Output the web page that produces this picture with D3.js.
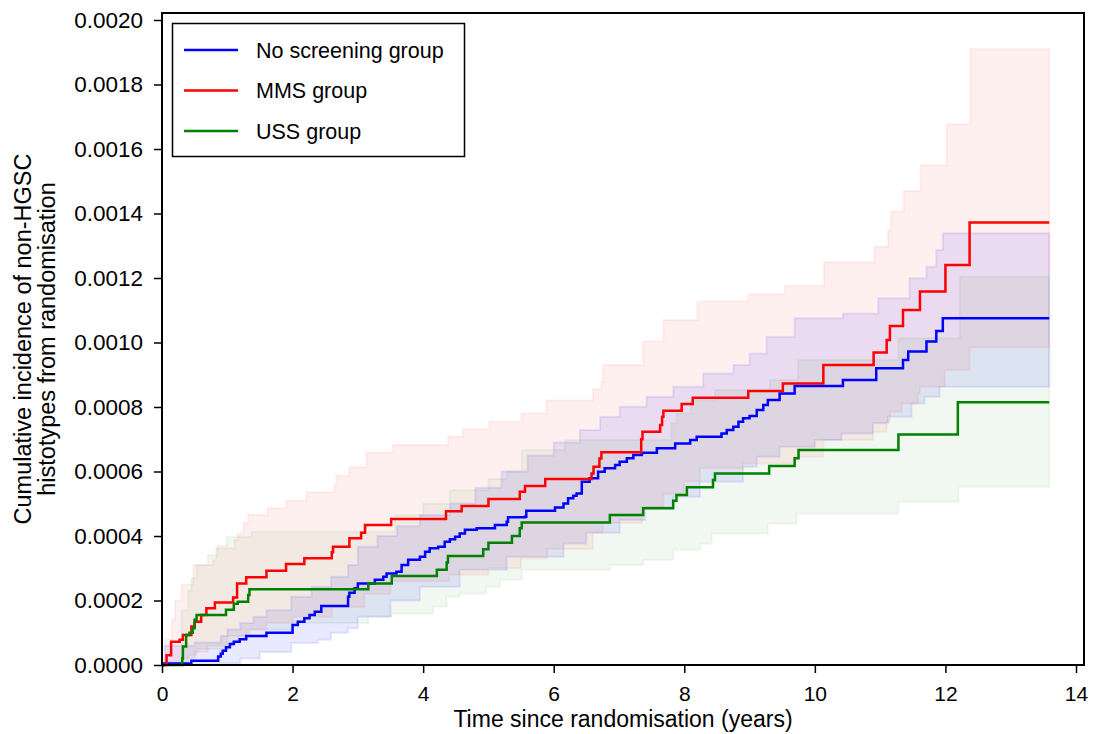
<!DOCTYPE html>
<html>
<head>
<meta charset="utf-8">
<script src="https://cdn.jsdelivr.net/npm/d3@7"></script>
<style>
  body { margin: 0; background: #fff; }
  svg { display: block; font-family: "Liberation Sans", Arial, sans-serif; }
</style>
</head>
<body>
<div id="chart"></div>
<script>
// step points [time (years), cumulative incidence]
const noScreening = [[0,0],[0.03,0.000005],[0.45,0.000013],[0.86,0.000026],[0.9,0.000035],[0.93,0.000044],[0.98,0.000055],[1.04,0.000065],[1.1,0.000072],[1.19,0.00008],[1.29,0.00009],[1.6,0.0001],[2.0,0.000124],[2.08,0.000134],[2.18,0.000145],[2.26,0.000155],[2.34,0.000165],[2.44,0.000183],[2.85,0.000212],[2.87,0.000224],[2.95,0.000238],[3.0,0.000253],[3.26,0.000264],[3.39,0.000274],[3.44,0.000284],[3.59,0.000289],[3.67,0.00031],[3.77,0.000326],[3.95,0.000336],[4.03,0.000351],[4.1,0.000362],[4.23,0.000367],[4.33,0.000382],[4.41,0.00039],[4.49,0.000398],[4.56,0.000408],[4.64,0.000419],[4.82,0.000424],[5.1,0.000434],[5.28,0.000444],[5.3,0.000458],[5.56,0.00046],[5.58,0.000478],[6.02,0.000488],[6.15,0.000501],[6.22,0.000517],[6.3,0.000525],[6.35,0.000532],[6.43,0.000568],[6.55,0.000579],[6.68,0.000599],[6.78,0.00061],[6.94,0.00062],[7.01,0.00063],[7.12,0.000641],[7.22,0.000651],[7.35,0.000658],[7.58,0.000672],[7.86,0.000687],[8.09,0.000698],[8.19,0.000708],[8.57,0.000718],[8.65,0.000729],[8.75,0.000739],[8.83,0.000754],[8.9,0.000765],[9.0,0.000772],[9.11,0.000791],[9.21,0.000806],[9.28,0.000822],[9.46,0.000842],[9.69,0.000865],[10.43,0.000884],[10.94,0.00092],[11.35,0.000946],[11.43,0.000972],[11.71,0.001003],[11.86,0.001036],[11.96,0.001075],[13.59,0.001075]];
const mms = [[0,0],[0.07,0.00003],[0.14,0.000072],[0.27,0.000078],[0.32,0.000093],[0.45,0.000119],[0.5,0.000134],[0.6,0.000155],[0.68,0.000176],[0.81,0.000194],[1.09,0.000209],[1.15,0.000253],[1.29,0.000272],[1.6,0.000292],[1.9,0.000313],[2.18,0.000331],[2.6,0.00035],[2.62,0.000367],[2.87,0.000393],[3.05,0.00041],[3.11,0.000434],[3.51,0.000453],[4.35,0.000477],[4.59,0.000493],[5.0,0.000515],[5.48,0.000537],[5.56,0.000555],[5.87,0.000577],[6.58,0.000594],[6.61,0.000615],[6.7,0.00064],[6.73,0.00066],[7.34,0.0007],[7.36,0.000723],[7.63,0.000744],[7.66,0.00077],[7.68,0.000788],[7.96,0.000809],[8.13,0.000829],[8.98,0.00085],[9.51,0.000873],[10.13,0.00093],[10.9,0.000969],[11.1,0.001008],[11.15,0.001051],[11.35,0.001101],[11.61,0.001158],[12.0,0.00124],[12.37,0.001372],[13.59,0.001372]];
const uss = [[0,0],[0.31,0.00002],[0.32,0.000057],[0.37,0.000093],[0.42,0.0001],[0.47,0.000114],[0.5,0.00014],[0.53,0.000155],[0.98,0.000171],[1.1,0.00019],[1.16,0.000196],[1.32,0.000217],[1.34,0.000235],[3.16,0.000253],[3.52,0.000276],[4.21,0.000295],[4.36,0.000318],[4.38,0.000338],[4.92,0.000359],[5.0,0.000379],[5.36,0.0004],[5.48,0.000424],[5.51,0.000442],[6.86,0.000465],[7.37,0.000486],[7.83,0.000509],[7.88,0.000527],[8.04,0.000551],[8.44,0.000574],[8.47,0.000594],[9.3,0.000617],[9.69,0.000641],[9.75,0.000667],[11.28,0.000715],[12.19,0.000815],[13.59,0.000815]];

// 95% confidence limits
const noScreeningLo = [[0,0],[0.9,0.000005],[1.2,0.00002],[1.5,0.00004],[1.98,0.000068],[2.39,0.000078],[2.59,0.0001],[2.85,0.000114],[3.0,0.00015],[3.5,0.0002],[3.95,0.000243],[4.56,0.000295],[5.28,0.000336],[6.15,0.000377],[6.5,0.00041],[7.01,0.00045],[7.4,0.00049],[7.83,0.000522],[8.24,0.000568],[8.9,0.000615],[9.11,0.000646],[9.46,0.000677],[10.0,0.000698],[10.41,0.000718],[10.89,0.00075],[11.12,0.00077],[11.48,0.000811],[11.68,0.000832],[11.91,0.000863],[13.59,0.000863]];
const noScreeningHi = [[0,0],[0.04,0.00006],[0.5,0.00007],[0.9,0.00009],[1.0,0.00011],[1.2,0.00013],[1.4,0.00015],[1.6,0.00017],[1.98,0.000212],[2.29,0.000243],[2.59,0.000274],[2.85,0.00031],[3.0,0.000367],[3.3,0.0004],[3.6,0.00043],[3.95,0.000465],[4.41,0.000501],[4.8,0.00055],[5.2,0.0006],[5.6,0.00065],[6.0,0.00069],[6.4,0.000729],[6.71,0.00077],[7.01,0.000801],[7.42,0.000832],[7.83,0.000863],[8.29,0.000904],[8.75,0.00093],[9.0,0.000966],[9.26,0.001018],[9.69,0.001075],[10.43,0.00109],[10.97,0.001137],[11.45,0.001199],[11.71,0.001235],[11.86,0.001287],[11.96,0.001339],[13.59,0.001339]];
const mmsLo = [[0,0],[0.1,0.00001],[0.3,0.00002],[0.5,0.00004],[0.7,0.00006],[1.0,0.00009],[1.3,0.00011],[1.6,0.00013],[2.0,0.00015],[2.6,0.00018],[3.1,0.00022],[3.5,0.00026],[4.4,0.00028],[5.0,0.0003],[5.5,0.00033],[5.9,0.00036],[6.6,0.00041],[6.75,0.00044],[7.35,0.00049],[7.68,0.00053],[8.0,0.00057],[8.24,0.00061],[8.9,0.000625],[9.69,0.000646],[10.13,0.000698],[10.89,0.000723],[11.1,0.000754],[11.15,0.000785],[11.33,0.000811],[11.58,0.000842],[11.61,0.000863],[11.99,0.000915],[12.37,0.000985],[13.59,0.000985]];
const mmsHi = [[0,0],[0.05,0.00008],[0.15,0.00014],[0.2,0.0002],[0.3,0.00025],[0.48,0.00031],[0.78,0.000326],[0.83,0.000362],[1.11,0.000388],[1.16,0.000408],[1.25,0.00044],[1.32,0.000465],[1.62,0.000486],[1.9,0.000509],[2.21,0.000536],[2.64,0.00056],[2.67,0.000587],[2.87,0.000613],[3.13,0.000658],[3.54,0.000682],[4.38,0.000708],[4.61,0.000731],[5.02,0.000754],[5.51,0.00078],[5.89,0.00082],[6.6,0.000855],[6.73,0.000878],[6.76,0.00093],[7.37,0.001003],[7.68,0.00107],[8.2,0.001127],[8.98,0.00115],[9.54,0.001176],[10.14,0.001249],[10.91,0.001297],[11.12,0.001349],[11.17,0.001406],[11.36,0.00147],[11.62,0.00155],[12.02,0.001677],[12.38,0.001909],[13.59,0.001909]];
const ussLo = [[0,0],[0.32,0.00001],[0.4,0.00003],[0.53,0.00005],[1.0,0.00007],[1.16,0.00009],[1.34,0.00011],[2.0,0.00013],[3.16,0.00015],[3.52,0.00016],[4.15,0.000181],[4.36,0.000212],[4.56,0.000222],[4.97,0.000243],[5.18,0.000264],[5.51,0.000295],[6.86,0.00031],[7.37,0.000326],[7.83,0.000357],[8.24,0.000377],[8.42,0.000408],[9.28,0.000439],[9.72,0.00047],[11.28,0.000506],[12.2,0.000553],[13.59,0.000553]];
const ussHi = [[0,0],[0.3,0.00017],[0.4,0.00023],[0.45,0.00027],[0.53,0.00031],[0.7,0.00034],[0.85,0.00037],[0.99,0.000398],[1.37,0.000413],[3.57,0.000465],[4.0,0.0005],[4.41,0.000543],[5.0,0.000577],[5.28,0.0006],[5.51,0.000667],[6.17,0.000698],[7.8,0.00075],[7.88,0.00078],[8.1,0.00082],[8.47,0.000853],[9.31,0.000884],[9.74,0.000946],[11.28,0.001013],[12.22,0.001204],[13.59,0.001204]];

const groups = ['No screening group', 'MMS group', 'USS group'];
const xTicks = [0, 2, 4, 6, 8, 10, 12, 14];
const yTicks = [0, 0.0002, 0.0004, 0.0006, 0.0008, 0.001, 0.0012, 0.0014, 0.0016, 0.0018, 0.002];

const width = 1095;
const height = 734;
const margin = {top: 13, right: 11, bottom: 69, left: 162};

const svg = d3.select('#chart')
  .append('svg')
  .attr('width', width)
  .attr('height', height);

const x = d3.scaleLinear()
  .domain([0, 14])
  .range([162, 1076]);

const y = d3.scaleLinear()
  .domain([0, 0.002])
  .range([665, 20]);

const series = [
  {name: groups[0], line: noScreening, lo: noScreeningLo, hi: noScreeningHi, color: '#0000ff', alpha: 0.085},
  {name: groups[1], line: mms, lo: mmsLo, hi: mmsHi, color: '#ff0000', alpha: 0.06},
  {name: groups[2], line: uss, lo: ussLo, hi: ussHi, color: '#008000', alpha: 0.055},
];

// value of a step function at time t
function stepAt(pts, t) {
  const i = d3.bisector(d => d[0]).right(pts, t) - 1;
  return pts[Math.max(i, 0)][1];
}

const band = d3.area()
  .curve(d3.curveStepAfter)
  .x(d => x(d.t))
  .y0(d => y(d.lo))
  .y1(d => y(d.hi));

const line = d3.line()
  .curve(d3.curveStepAfter)
  .x(d => x(d[0]))
  .y(d => y(d[1]));

// confidence bands
svg.append('g')
  .selectAll('path')
  .data(series)
  .join('path')
    .attr('d', s => {
      const ts = Array.from(new Set(s.lo.map(d => d[0]).concat(s.hi.map(d => d[0])))).sort((a, b) => a - b);
      return band(ts.map(t => ({t, lo: stepAt(s.lo, t), hi: stepAt(s.hi, t)})));
    })
    .attr('fill', s => s.color)
    .attr('fill-opacity', s => s.alpha)
    .attr('stroke', s => s.color)
    .attr('stroke-opacity', s => s.alpha)
    .attr('stroke-width', 2);

// cumulative incidence curves
svg.append('g')
  .selectAll('path')
  .data(series)
  .join('path')
    .attr('d', s => line(s.line))
    .attr('fill', 'none')
    .attr('stroke', s => s.color)
    .attr('stroke-width', 2.5);

// frame
svg.append('rect')
  .attr('x', 162)
  .attr('y', margin.top)
  .attr('width', width - margin.right - 162)
  .attr('height', 665 - margin.top)
  .attr('fill', 'none')
  .attr('stroke', '#000')
  .attr('stroke-width', 2);

function xAxis(g) {
  g.attr('transform', `translate(0, 665)`)
    .call(d3.axisBottom(x).tickValues(xTicks).tickSize(8).tickPadding(13).tickSizeOuter(0))
    .attr('font-size', '21px')
    .attr('font-family', '"Liberation Sans", Arial, sans-serif');
  g.select('.domain').remove();
  g.selectAll('.tick line').attr('stroke-width', 1.5);
}

function yAxis(g) {
  g.attr('transform', `translate(162, 0)`)
    .call(d3.axisLeft(y).tickValues(yTicks).tickFormat(d3.format('.4f')).tickSize(8).tickPadding(11).tickSizeOuter(0))
    .attr('font-size', '22.5px')
    .attr('font-family', '"Liberation Sans", Arial, sans-serif');
  g.select('.domain').remove();
  g.selectAll('.tick line').attr('stroke-width', 1.5);
}

svg.append('g').call(xAxis);
svg.append('g').call(yAxis);

// axis titles
svg.append('text')
  .attr('x', 623)
  .attr('y', 727)
  .attr('text-anchor', 'middle')
  .attr('font-size', '23px')
  .text('Time since randomisation (years)');

const yTitle = svg.append('text')
  .attr('transform', 'rotate(-90)')
  .attr('text-anchor', 'middle')
  .attr('font-size', '23.5px');
yTitle.append('tspan').attr('x', -339).attr('y', 31).text('Cumulative incidence of non-HGSC');
yTitle.append('tspan').attr('x', -339).attr('y', 55).text('histotypes from randomisation');

// legend
const legend = svg.append('g');
legend.append('rect')
  .attr('x', 172.5)
  .attr('y', 23.5)
  .attr('width', 292)
  .attr('height', 133)
  .attr('fill', '#fff')
  .attr('stroke', '#000')
  .attr('stroke-width', 1.5);

const item = legend.selectAll('g')
  .data(series)
  .join('g')
    .attr('transform', (d, i) => `translate(184, ${50 + i * 40.5})`);
item.append('line')
  .attr('x2', 54)
  .attr('stroke', d => d.color)
  .attr('stroke-width', 2.5);
item.append('text')
  .attr('x', 72)
  .attr('dy', '0.35em')
  .attr('font-size', '21.5px')
  .text(d => d.name);
</script>
</body>
</html>
